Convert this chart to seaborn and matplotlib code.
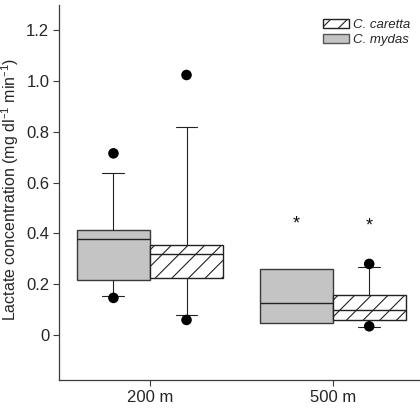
import numpy as np
import pandas as pd
import matplotlib
matplotlib.use("Agg")
import matplotlib.pyplot as plt
from matplotlib.patches import Patch
import seaborn as sns

# ---------------- data ----------------
depths = ["200 m", "500 m"]
species = ["C. mydas", "C. caretta"]

# box-plot summaries per depth: lower whisker, Q1, median, Q3, upper whisker
mydas_low = [0.151, 0.046]
mydas_q1 = [0.214, 0.046]
mydas_med = [0.377, 0.124]
mydas_q3 = [0.413, 0.257]
mydas_high = [0.638, 0.257]

caretta_low = [0.079, 0.031]
caretta_q1 = [0.222, 0.058]
caretta_med = [0.317, 0.097]
caretta_q3 = [0.354, 0.158]
caretta_high = [0.817, 0.266]

# extreme points (filled dots) per depth
mydas_dots = [[0.145, 0.715], []]
caretta_dots = [[0.058, 1.024], [0.033, 0.279]]

# significance markers
sig_depth = ["500 m", "500 m"]
sig_species = ["C. mydas", "C. caretta"]
sig_y = [0.435, 0.43]

yticks = [0, 0.2, 0.4, 0.6, 0.8, 1.0, 1.2]
ytick_labels = ["0", "0.2", "0.4", "0.6", "0.8", "1.0", "1.2"]

# ---------------- build tables ----------------
summ = {
    "C. mydas": [mydas_low, mydas_q1, mydas_med, mydas_q3, mydas_high],
    "C. caretta": [caretta_low, caretta_q1, caretta_med, caretta_q3, caretta_high],
}
rows = []
for sp, arrs in summ.items():
    for i, d in enumerate(depths):
        for a in arrs:
            rows.append({"depth": d, "species": sp, "value": a[i]})
box_df = pd.DataFrame(rows)

dot_rows = []
for sp, dots in (("C. mydas", mydas_dots), ("C. caretta", caretta_dots)):
    for i, d in enumerate(depths):
        for v in dots[i]:
            dot_rows.append({"depth": d, "species": sp, "value": v})
dot_df = pd.DataFrame(dot_rows)

# ---------------- style ----------------
sns.set_theme(style="ticks")
plt.rcParams["font.family"] = ["Liberation Sans", "DejaVu Sans"]
plt.rcParams["mathtext.default"] = "regular"
plt.rcParams["hatch.linewidth"] = 0.8

GREY = "#c4c4c4"
EDGE = "#3a3a3a"

fig = plt.figure(figsize=(4.2, 4.12), dpi=100)
ax = fig.add_axes([59 / 420, (412 - 380.3) / 412, (420 - 59) / 420, (380.3 - 5) / 412])

sns.boxplot(
    data=box_df, x="depth", y="value", hue="species",
    order=depths, hue_order=species,
    palette={"C. mydas": GREY, "C. caretta": "white"},
    whis=(0, 100), width=0.8, gap=0, dodge=True,
    linecolor=EDGE, linewidth=1.0, fliersize=0,
    medianprops={"color": "#222222", "linewidth": 1.0},
    whiskerprops={"color": "#222222", "linewidth": 0.8},
    capprops={"color": "#222222", "linewidth": 0.8},
    legend=False, ax=ax,
)

# hatch the C. caretta boxes (the right box of each pair)
for p in ax.patches:
    verts = p.get_path().vertices
    xc = verts[:, 0].mean()
    if xc - round(xc) > 0:
        p.set_hatch("//")
        p.set_facecolor("white")
        p.set_edgecolor("#222222")

# whiskers with non-zero length
whiskers = []
for ln in ax.lines:
    xd = np.asarray(ln.get_xdata(), dtype=float)
    yd = np.asarray(ln.get_ydata(), dtype=float)
    if len(xd) == 2 and xd[0] == xd[1] and abs(yd[1] - yd[0]) > 1e-9:
        whiskers.append((xd[0], yd))

# narrow whisker caps; hide caps of zero-length whiskers
for ln in ax.lines:
    xd = np.asarray(ln.get_xdata(), dtype=float)
    yd = np.asarray(ln.get_ydata(), dtype=float)
    if len(xd) == 2 and yd[0] == yd[1]:
        w = abs(xd[1] - xd[0])
        if 0.01 < w < 0.35:
            c = xd.mean()
            ln.set_xdata([c - 0.06, c + 0.06])
            touched = any(abs(wx - c) < 1e-6 and np.any(np.abs(wy - yd[0]) < 1e-9)
                          for wx, wy in whiskers)
            if not touched:
                ln.set_visible(False)

sns.stripplot(
    data=dot_df, x="depth", y="value", hue="species",
    order=depths, hue_order=species,
    palette={"C. mydas": "black", "C. caretta": "black"},
    dodge=True, jitter=False, size=7.6, linewidth=0,
    legend=False, ax=ax, zorder=5,
)

for d, sp, y in zip(sig_depth, sig_species, sig_y):
    x = depths.index(d) + (species.index(sp) - 0.5) * 0.4
    ax.text(x, y, "*", ha="center", va="center", fontsize=13, color="#111111")

ax.set_xlim(-0.498, 1.478)
ax.set_ylim(-0.18, 1.30)
ax.set_yticks(yticks)
ax.set_yticklabels(ytick_labels)
ax.tick_params(axis="both", labelsize=12, length=4, width=0.8, color=EDGE, pad=3)
ax.set_xlabel("")
ax.set_ylabel("Lactate concentration (mg dl$^{\u2013 1}$ min$^{\u2013 1}$)", fontsize=11.5)
ax.yaxis.set_label_coords(-0.105, 0.51)

for s in ("top", "right"):
    ax.spines[s].set_visible(False)
for s in ("left", "bottom"):
    ax.spines[s].set_color(EDGE)
    ax.spines[s].set_linewidth(0.9)

handles = [
    Patch(facecolor="white", edgecolor="#222222", hatch="//", label="C. caretta"),
    Patch(facecolor=GREY, edgecolor="#555555", label="C. mydas"),
]
fig.legend(
    handles=handles, loc="upper left",
    bbox_to_anchor=(323 / 420, 1 - 19 / 412), bbox_transform=fig.transFigure,
    frameon=False, borderpad=0, borderaxespad=0,
    handlelength=2.0, handleheight=0.65, handletextpad=0.3, labelspacing=0.25,
    prop={"style": "italic", "size": 9.5},
)

fig.savefig("out.png", dpi=100)
